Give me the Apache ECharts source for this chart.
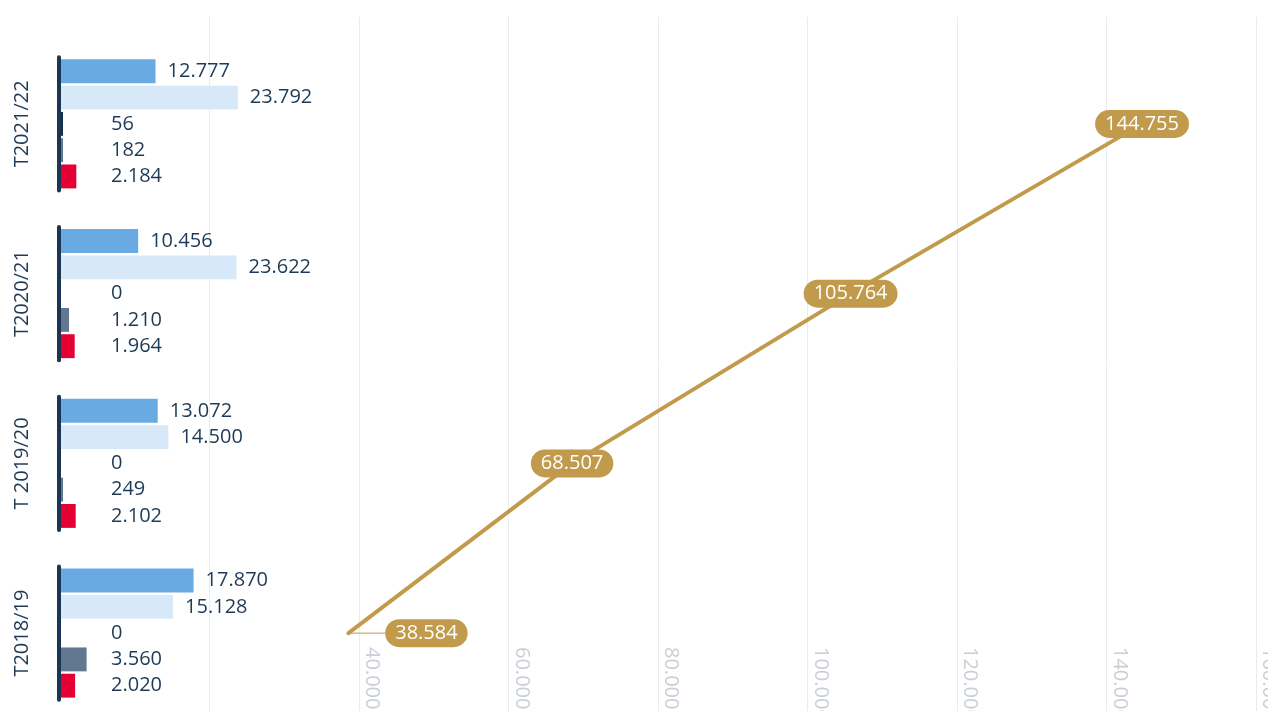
<!DOCTYPE html>
<html><head><meta charset="utf-8">
<script src="https://cdn.jsdelivr.net/npm/echarts@6/dist/echarts.min.js"></script>
<style>html,body{margin:0;padding:0;background:#fff}#c{width:1268px;height:711px}</style>
</head><body><div id="c"></div>
<script>
const categories = ['T2018/19', 'T 2019/20', 'T2020/21', 'T2021/22'];
const seriesBlue = [17870, 13072, 10456, 12777];
const seriesLight = [15128, 14500, 23622, 23792];
const seriesNavy = [0, 0, 0, 56];
const seriesSlate = [3560, 249, 1210, 182];
const seriesRed = [2020, 2102, 1964, 2184];
const cumulative = [38584, 68507, 105764, 144755];
const xMin = 0, xMax = 160000, xInterval = 20000;

const FONT = 'Open Sans';
const TXT = '#1e3a56';
const GOLD = '#c29a4c';
const fmt = v => String(v).replace(/\B(?=(\d{3})+(?!\d))/g, '.');

function barSeries(name, data, color, near) {
  return {
    name, type: 'bar', data, xAxisIndex: 0, yAxisIndex: 0,
    barGap: '10%', barCategoryGap: '24%',
    barMinHeight: near ? 3 : 0,
    itemStyle: { color: p => (p.value === 0 ? 'rgba(0,0,0,0)' : color) },
    label: near ? {
      show: true, position: [51, '50%'], verticalAlign: 'middle', align: 'left',
      color: TXT, fontSize: 20, fontFamily: FONT, formatter: p => fmt(p.value)
    } : {
      show: true, position: 'right', distance: 12,
      color: TXT, fontSize: 20, fontFamily: FONT, formatter: p => fmt(p.value)
    }
  };
}

const chart = echarts.init(document.getElementById('c'), null, { renderer: 'canvas' });
chart.setOption({
  animation: false,
  grid: [
    { left: 60, right: 12, top: 39, bottom: -7, containLabel: false, outerBoundsMode: 'none' },
    { left: 60, right: 12, top: 17, bottom: -7, containLabel: false, outerBoundsMode: 'none' }
  ],
  xAxis: [
    {
      type: 'value', gridIndex: 0, min: xMin, max: xMax, interval: xInterval, offset: -79,
      axisLine: { show: false }, axisTick: { show: false }, splitLine: { show: false },
      axisLabel: {
        rotate: -90, margin: 8, color: '#c9ced7', fontSize: 20, fontFamily: FONT,
        verticalAlign: 'bottom', lineHeight: 26,
        formatter: v => (v < 40000 ? '' : fmt(v))
      }
    },
    {
      type: 'value', gridIndex: 1, min: xMin, max: xMax, interval: xInterval,
      axisLine: { show: false }, axisTick: { show: false }, axisLabel: { show: false },
      splitLine: { show: true, showMinLine: false, lineStyle: { color: '#ebebeb', width: 1 } }
    }
  ],
  yAxis: [
    {
      type: 'category', gridIndex: 0, data: categories,
      axisLine: { show: false }, axisTick: { show: false },
      axisLabel: { rotate: 90, margin: 28, color: TXT, fontSize: 20, fontFamily: FONT }
    },
    { type: 'value', gridIndex: 1, show: false }
  ],
  series: [
    barSeries('A', seriesBlue, '#6aaae3', false),
    barSeries('B', seriesLight, '#d7e8f8', false),
    barSeries('C', seriesNavy, '#142f4c', true),
    barSeries('D', seriesSlate, '#627790', true),
    barSeries('E', seriesRed, '#e40032', true),
    {
      type: 'custom', xAxisIndex: 0, yAxisIndex: 0, silent: true, z: 5,
      data: categories.map((c, i) => [0, i]),
      encode: { x: 0, y: 1 },
      renderItem(params, api) {
        const p = api.coord([api.value(0), api.value(1)]);
        const band = api.size([0, 1])[1];
        const half = band * 0.38 + 2;
        return {
          type: 'line',
          shape: { x1: p[0] - 1, y1: p[1] - half, x2: p[0] - 1, y2: p[1] + half },
          style: { stroke: '#1b3653', lineWidth: 4, lineCap: 'round' }
        };
      }
    },
    {
      type: 'line', xAxisIndex: 0, yAxisIndex: 0, data: cumulative, z: 6,
      symbol: 'circle', symbolSize: 4,
      lineStyle: { color: GOLD, width: 4 }, itemStyle: { color: GOLD },
      label: {
        show: true, position: 'inside', formatter: p => fmt(p.value),
        backgroundColor: GOLD, color: '#fff', fontSize: 20, fontFamily: FONT,
        padding: [4, 10, 4, 10], borderRadius: 14
      },
      labelLine: { show: true, lineStyle: { color: GOLD, width: 1 } },
      labelLayout: p => (p.dataIndex === 0 ? { dx: 78 } : {})
    }
  ]
});
</script></body></html>
